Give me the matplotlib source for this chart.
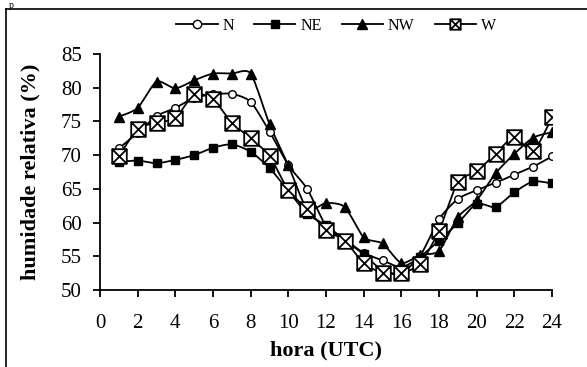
import numpy as np
import matplotlib
matplotlib.use("Agg")
import matplotlib.pyplot as plt
from matplotlib.path import Path
from matplotlib.lines import Line2D

hours = list(range(1, 25))
N = [71.0, 73.3, 75.8, 77.0, 78.5, 79.0, 79.1, 77.9, 73.5, 68.5, 65.0, 59.5,
     57.5, 55.5, 54.4, 53.4, 55.1, 60.5, 63.5, 64.8, 65.9, 67.1, 68.3, 69.8]
NE = [69.0, 69.2, 68.8, 69.3, 70.0, 71.1, 71.6, 70.5, 68.1, 64.7, 61.3, 59.6,
      57.4, 55.3, 52.9, 52.5, 54.9, 57.3, 59.9, 62.8, 62.3, 64.5, 66.1, 65.8]
NW = [75.7, 77.0, 80.9, 79.9, 81.1, 82.1, 82.1, 82.1, 74.6, 68.5, 62.0, 62.9,
      62.3, 57.8, 56.9, 54.0, 55.2, 55.8, 60.8, 63.3, 67.3, 70.2, 72.6, 73.4]
W = [69.8, 73.9, 74.8, 75.5, 79.0, 78.3, 74.8, 72.5, 69.9, 64.8, 62.0, 58.9,
     57.3, 54.0, 52.5, 52.5, 53.9, 58.8, 66.0, 67.6, 70.2, 72.7, 70.6, 75.6]
series_names = ["N", "NE", "NW", "W"]
xticks = list(range(0, 25, 2))
yticks = list(range(50, 86, 5))

plt.rcParams['font.family'] = ['Liberation Serif', 'DejaVu Serif']

fig = plt.figure(figsize=(5.87, 3.67), dpi=100)
ax = fig.add_axes([100/587, 1-290/367, 452/587, 236/367])


def smooth(x, y, n=12, s=0.7):
    x = np.asarray(x, float); y = np.asarray(y, float)
    P = np.column_stack([x, y])
    Pp = np.vstack([P[0], P, P[-1]])
    out = []
    t = np.linspace(0, 1, n, endpoint=False)[:, None]
    h00 = 2*t**3 - 3*t**2 + 1
    h10 = t**3 - 2*t**2 + t
    h01 = -2*t**3 + 3*t**2
    h11 = t**3 - t**2
    for i in range(len(P) - 1):
        p0, p1, p2, p3 = Pp[i], Pp[i+1], Pp[i+2], Pp[i+3]
        m1 = s * (p2 - p0) / 2
        m2 = s * (p3 - p1) / 2
        out.append(h00*p1 + h10*m1 + h01*p2 + h11*m2)
    out.append(P[-1:])
    out = np.vstack(out)
    return out[:, 0], out[:, 1]

# square with X marker
sqx = Path([(-1, -1), (1, -1), (1, 1), (-1, 1), (-1, -1),
            (-1, -1), (1, 1), (-1, 1), (1, -1)],
           [Path.MOVETO, Path.LINETO, Path.LINETO, Path.LINETO, Path.CLOSEPOLY,
            Path.MOVETO, Path.LINETO, Path.MOVETO, Path.LINETO])

styles = {
    "N": dict(marker='o', ms=5.5, mfc='white', mec='black', mew=1.0),
    "NE": dict(marker='s', ms=5.5, mfc='black', mec='black', mew=1.0),
    "NW": dict(marker='^', ms=6.5, mfc='black', mec='black', mew=1.0),
    "W": dict(marker=sqx, ms=10.5, mfc='white', mec='black', mew=1.3),
}
legend_ms = {"N": 6, "NE": 6, "NW": 7, "W": 7.5}
data = {"N": N, "NE": NE, "NW": NW, "W": W}

handles = []
for name in series_names:
    sx, sy = smooth(hours, data[name])
    ax.plot(sx, sy, color='black', lw=1.3, zorder=2)
    st = styles[name]
    if name == "W":
        ax.plot(hours, data[name], ls='none', marker='s', ms=10.5, mfc='white',
                mec='none', zorder=3)
    ax.plot(hours, data[name], ls='none', zorder=3, **st)
    hst = dict(st); hst['ms'] = legend_ms[name]
    handles.append(Line2D([0], [0], color='black', lw=1.3, **hst))

ax.set_xlim(0, 24)
ax.set_ylim(50, 85)
ax.set_xticks(xticks)
ax.set_yticks(yticks)
for s in ['top', 'right']:
    ax.spines[s].set_visible(False)
for s in ['left', 'bottom']:
    ax.spines[s].set_linewidth(1.3)
ax.tick_params(direction='out', length=5, width=1.3, labelsize=15)
ax.tick_params(axis='y', pad=8)
ax.tick_params(axis='x', pad=12)
ax.set_xlabel("hora (UTC)", fontsize=16, fontweight='bold', va='center')
ax.xaxis.set_label_coords(0.5, (290 - 350) / 236)
ax.set_ylabel("humidade relativa (%)", fontsize=16, fontweight='bold', va='center')
ax.yaxis.set_label_coords((30 - 100) / 452, 0.5)

fig.legend(handles, series_names, loc='center', bbox_to_anchor=(336/587, 1-26/367),
           ncol=4, frameon=False, fontsize=11.5, handlelength=2.6,
           columnspacing=1.25, handletextpad=0.3)

# outer frame (partially cut)
fig.add_artist(Line2D([6/587, 1], [1-8.5/367, 1-8.5/367], transform=fig.transFigure,
                      color='black', lw=1.2))
fig.add_artist(Line2D([6/587, 6/587], [1-8.5/367, 0], transform=fig.transFigure,
                      color='black', lw=1.2))
fig.text(9/587, 1-0.5/367, "p", fontsize=7, va='top', ha='left')

fig.savefig("out.png", dpi=100)
